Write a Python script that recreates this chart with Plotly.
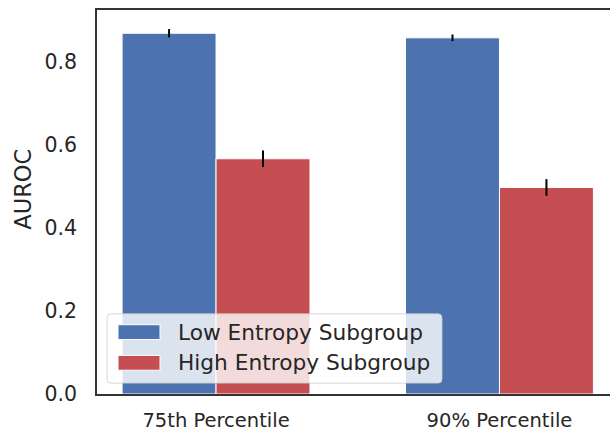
import plotly.graph_objects as go

# Data
categories = ["75th Percentile", "90% Percentile"]
low_entropy = [0.868, 0.857]
low_entropy_err = [0.010, 0.008]
high_entropy = [0.566, 0.497]
high_entropy_err = [0.020, 0.020]
series_names = ["Low Entropy Subgroup", "High Entropy Subgroup"]
y_ticks = [0.0, 0.2, 0.4, 0.6, 0.8]

BLUE = "#4C72B0"
RED = "#C44E52"
TEXT = "#262626"
FONT = "DejaVu Sans"

W, H = 610, 432
L, R, T, B = 97, 0, 10, 34
PW, PH = W - L - R, H - T - B


def px(xp):
    return (xp - L) / PW


def py(yp):
    return (H - B - yp) / PH


fig = go.Figure()
for name, vals, errs, color in [
    (series_names[0], low_entropy, low_entropy_err, BLUE),
    (series_names[1], high_entropy, high_entropy_err, RED),
]:
    fig.add_trace(go.Bar(
        x=categories, y=vals, name=name,
        marker=dict(color=color, line=dict(color="white", width=1)),
        error_y=dict(type="data", array=errs, color="black", thickness=2, width=0),
        showlegend=False,
    ))

# Legend box drawn as shapes + text
shapes = []
bx0, bx1, by0, by1, r = 107, 442, 317, 387, 4
path = (
    f"M {px(bx0 + r)},{py(by0)} L {px(bx1 - r)},{py(by0)} "
    f"Q {px(bx1)},{py(by0)} {px(bx1)},{py(by0 + r)} "
    f"L {px(bx1)},{py(by1 - r)} Q {px(bx1)},{py(by1)} {px(bx1 - r)},{py(by1)} "
    f"L {px(bx0 + r)},{py(by1)} Q {px(bx0)},{py(by1)} {px(bx0)},{py(by1 - r)} "
    f"L {px(bx0)},{py(by0 + r)} Q {px(bx0)},{py(by0)} {px(bx0 + r)},{py(by0)} Z"
)
shapes.append(dict(type="path", path=path, xref="paper", yref="paper",
                   fillcolor="rgba(255,255,255,0.8)",
                   line=dict(color="rgba(204,204,204,0.8)", width=1), layer="above"))
annotations = []
for (y0, y1, yc), color, name in zip([(328, 343, 335.5), (359, 374, 366.5)],
                                     [BLUE, RED], series_names):
    shapes.append(dict(type="rect", xref="paper", yref="paper",
                       x0=px(118), x1=px(160), y0=py(y1), y1=py(y0),
                       fillcolor=color, line=dict(color="white", width=1), layer="above"))
    annotations.append(dict(text=name, xref="paper", yref="paper", x=px(176), y=py(yc),
                            xanchor="left", yanchor="middle", showarrow=False,
                            font=dict(family=FONT, size=21.7, color=TEXT)))

annotations.append(dict(text="AUROC", xref="paper", yref="paper", x=px(23.5), y=py(191),
                        textangle=-90, xanchor="center", yanchor="middle", showarrow=False,
                        font=dict(family=FONT, size=22.5, color=TEXT)))

fig.update_layout(
    width=W, height=H,
    margin=dict(l=L, r=R, t=T, b=B, pad=0),
    paper_bgcolor="white", plot_bgcolor="white",
    barmode="group", bargap=0.337, bargroupgap=0,
    shapes=shapes, annotations=annotations,
    font=dict(family=FONT, color=TEXT),
)
fig.update_xaxes(
    range=[-0.42, 1.39], showgrid=False, zeroline=False,
    showline=True, linecolor="#333333", linewidth=1.5, mirror=True,
    ticks="", tickfont=dict(family=FONT, size=19.5, color=TEXT), ticklabelstandoff=8,
)
fig.update_yaxes(
    range=[0, 0.924], tickvals=y_ticks, tickformat=".1f", showgrid=False, zeroline=False,
    showline=True, linecolor="#333333", linewidth=1.5, mirror=False,
    ticks="", tickfont=dict(family=FONT, size=20.5, color=TEXT), ticklabelstandoff=14,
)

fig.write_html("out.html")
